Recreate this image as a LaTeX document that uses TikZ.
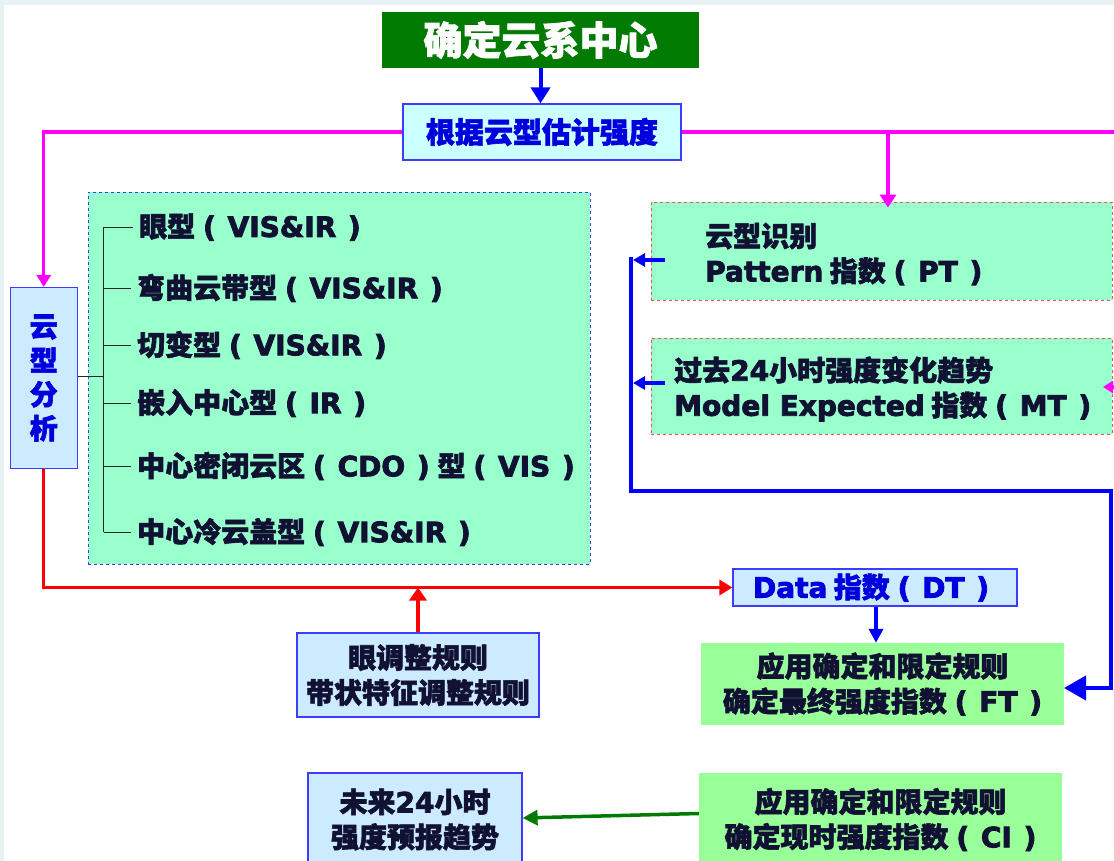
\documentclass[tikz,border=0pt]{standalone}
\usepackage{fontspec}
\setmainfont{Noto Sans CJK SC}[BoldFeatures={FakeBold=2}]
\newfontfamily\latf{DejaVu Sans}[BoldFeatures={FakeBold=3}]
\newcommand\latn[1]{{\latf\bfseries #1}}
\newcommand\lpar{\hspace{0.28em}{\latf\bfseries(}\hspace{0.42em}}
\newcommand\rpar{\hspace{0.42em}{\latf\bfseries)}\hspace{0.28em}}
\usetikzlibrary{arrows.meta}
\definecolor{titlegreen}{HTML}{007A00}
\definecolor{cyanfill}{HTML}{CCFFFF}
\definecolor{bluefill}{HTML}{CCEBFF}
\definecolor{mint}{HTML}{99FFCC}
\definecolor{lgreen}{HTML}{99FF99}
\definecolor{edgeblue}{HTML}{3C3CFF}
\definecolor{dashred}{HTML}{FF4D4D}
\definecolor{ink}{HTML}{111133}
\definecolor{bluetext}{HTML}{0000DD}
\definecolor{mag}{HTML}{FF00FF}
\definecolor{arrgreen}{HTML}{007A00}
\definecolor{bgstrip}{HTML}{E6F2F4}
\begin{document}
\begin{tikzpicture}[x=1pt,y=-1pt,
  txt/.style={font=\bfseries\fontsize{28}{35}\selectfont, text=ink, inner sep=0pt},
  titlebox/.style={fill=titlegreen, draw=none, inner sep=0pt, text=white, font=\bfseries\fontsize{39}{40}\selectfont},
  estbox/.style={fill=cyanfill, draw=edgeblue, line width=1.2pt, inner sep=0pt, text=bluetext, font=\bfseries\fontsize{29}{35}\selectfont},
  bluebox/.style={fill=bluefill, draw=edgeblue, line width=1.2pt, inner sep=0pt, align=center, txt},
  listbox/.style={fill=mint, draw=edgeblue, dashed, line width=0.8pt, inner sep=0pt},
  redbox/.style={fill=mint, draw=dashred, dashed, line width=0.8pt, inner sep=0pt},
  greenbox/.style={fill=lgreen, draw=none, inner sep=0pt, align=center, txt},
  item/.style={txt, anchor=west},
  pinkarr/.style={draw=mag, line width=3.3pt, -{Triangle[length=12pt,width=14pt]}},
  pinkline/.style={draw=mag, line width=3.3pt},
  bluearr/.style={draw=blue, line width=4pt, -{Triangle[length=13pt,width=15pt]}},
  redarr/.style={draw=red, line width=3.3pt, -{Triangle[length=13pt,width=15pt]}},
  greenarr/.style={draw=arrgreen, line width=3.5pt, -{Triangle[length=15pt,width=15pt]}},
  bracket/.style={draw=black!85, line width=0.9pt}
]
\useasboundingbox (0,0) rectangle (1114,861);
\clip (0,0) rectangle (1114,861);
\fill[bgstrip] (0,0) rectangle (1114,861);
\fill[white] (4,5) rectangle (1114,861);

% nodes
\node[titlebox, minimum width=317pt, minimum height=56pt] (title) at (540.5,40) {确定云系中心};
\node[estbox, minimum width=278pt, minimum height=56pt] (est) at (542,132) {根据云型估计强度};
\node[bluebox, minimum width=67pt, minimum height=181pt, text=bluetext, font=\bfseries\fontsize{28}{34}\selectfont] (ana) at (43.75,378) {云\\型\\分\\析};
\node[listbox, minimum width=502pt, minimum height=372pt] (list) at (339,378) {};
\node[redbox, minimum width=461pt, minimum height=98pt] (pt) at (881.5,251) {};
\node[redbox, minimum width=461pt, minimum height=96pt] (mt) at (881.5,386) {};
\node[bluebox, minimum width=284pt, minimum height=37pt, text=bluetext] (dt) at (875,587.5) {\latn{Data} 指数\lpar\latn{DT}\rpar};
\node[greenbox, minimum width=363pt, minimum height=82pt] (ft) at (882.5,684) {应用确定和限定规则\\确定最终强度指数\lpar\latn{FT}\rpar};
\node[bluebox, minimum width=242pt, minimum height=84pt] (eye) at (418,675) {眼调整规则\\带状特征调整规则};
\node[bluebox, minimum width=214pt, minimum height=93pt] (fut) at (415,819.5) {未来\latn{24}小时\\强度预报趋势};
\node[greenbox, minimum width=363pt, minimum height=93pt] (ci) at (880.5,819.5) {应用确定和限定规则\\确定现时强度指数\lpar\latn{CI}\rpar};

% texts in PT and MT boxes
\node[txt, anchor=west, align=left] (pttext) at (705,254) {云型识别\\\latn{Pattern} 指数\lpar\latn{PT}\rpar};
\node[txt, anchor=west, align=left] (mttext) at (674,389) {过去\latn{24}小时强度变化趋势\\\latn{Model Expected} 指数\lpar\latn{MT}\rpar};

% list items
\node[item] (i1) at (139,227) {眼型\lpar\latn{VIS\&IR}\rpar};
\node[item] (i2) at (137,288) {弯曲云带型\lpar\latn{VIS\&IR}\rpar};
\node[item] (i3) at (137,345) {切变型\lpar\latn{VIS\&IR}\rpar};
\node[item] (i4) at (137,403) {嵌入中心型\lpar\latn{IR}\rpar};
\node[item] (i5) at (137,466) {中心密闭云区\lpar\latn{CDO}\rpar 型\lpar\latn{VIS}\rpar};
\node[item] (i6) at (137,532) {中心冷云盖型\lpar\latn{VIS\&IR}\rpar};

% bracket
\coordinate (bk) at (103.5,376);
\draw[bracket] (ana.east |- bk) -- (bk);
\draw[bracket] (103.5,227) -- (103.5,532);
\foreach \i in {i1,i2,i3,i4,i5,i6} {
  \draw[bracket] (103.5,0 |- \i.west) -- ([xshift=-6pt]\i.west);
}

% coordinates
\coordinate (magR) at (1114,132);
\coordinate (br) at (888,132);
\coordinate (mtin) at (1114,387);
\coordinate (mttip) at (1103,387);
\coordinate (jtop) at (631,257);
\coordinate (jbot) at (631,491);
\coordinate (jr) at (1111,491);
\coordinate (jrb) at (1111,688);
\coordinate (ftin) at (1064,688);
\coordinate (ptout) at (665,260);
\coordinate (pttip) at (633,260);
\coordinate (mtout) at (665,383);
\coordinate (mtt) at (633,383);

% connectors
\draw[bluearr, -{Triangle[length=16pt,width=19pt]}] (title.south) -- (title.south |- est.north);
\draw[pinkarr] (est.west) -| (ana.north);
\draw[pinkline] (est.east) -- (magR);
\draw[pinkarr, -{Triangle[length=13pt,width=16pt]}] (br) -- ([yshift=-6pt]br |- pt.north);
\draw[pinkarr, -{Triangle[length=10pt,width=12pt]}] (mtin) -- (mttip);

\draw[draw=blue, line width=4.5pt, line join=miter] (jtop) -- (jbot) -- (jr) -- (jrb) -- ([xshift=-10pt]jrb);
\draw[bluearr, -{Triangle[length=22pt,width=24pt]}] (jrb) -- (ftin);
\draw[bluearr, line width=3.5pt, -{Triangle[length=12pt,width=13pt]}] (ptout) -- (pttip);
\draw[bluearr, line width=3.5pt, -{Triangle[length=12pt,width=13pt]}] (mtout) -- (mtt);

\draw[redarr, line join=miter] (ana.south) |- (dt.west);
\draw[redarr, -{Triangle[length=13pt,width=17pt]}] (eye.north) -- (eye.north |- dt.west);
\draw[bluearr, line width=3.5pt, -{Triangle[length=14pt,width=14pt]}] ([xshift=1pt]dt.south) -- ([xshift=1pt]dt.south |- ft.north);
\draw[greenarr] ([yshift=6pt]ci.west) -- ([yshift=1.5pt]fut.east);
\end{tikzpicture}
\end{document}
